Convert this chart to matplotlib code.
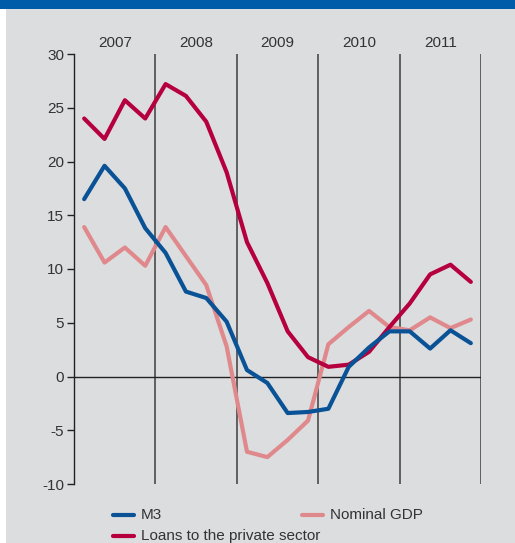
import matplotlib.pyplot as plt
from matplotlib.lines import Line2D
from matplotlib.patches import Rectangle

plt.rcParams['font.family'] = ['Liberation Sans', 'DejaVu Sans']

# quarterly data, 2007Q1 .. 2011Q4 (annual growth, %)
years = [2007, 2008, 2009, 2010, 2011]
m3 = [16.5, 19.6, 17.5, 13.8, 11.5, 7.9, 7.3, 5.1,
      0.6, -0.6, -3.4, -3.3, -3.0, 0.9, 2.7, 4.2,
      4.2, 2.6, 4.3, 3.1]
gdp = [13.9, 10.6, 12.0, 10.3, 13.9, 11.2, 8.5, 2.8,
       -7.0, -7.5, -5.9, -4.1, 3.0, 4.6, 6.1, 4.6,
       4.3, 5.5, 4.5, 5.3]
loans = [24.0, 22.1, 25.7, 24.0, 27.2, 26.1, 23.7, 19.0,
         12.5, 8.7, 4.2, 1.8, 0.9, 1.1, 2.3, 4.6,
         6.8, 9.5, 10.4, 8.8]
yticks = [-10, -5, 0, 5, 10, 15, 20, 25, 30]

x = [years[0] + (i + 0.5) / 4 for i in range(len(m3))]

c_m3 = '#0a5296'
c_gdp = '#e0898c'
c_loans = '#b5003d'
bg = '#dcdddf'

fig = plt.figure(figsize=(5.15, 5.43), dpi=100)
fig.patch.set_facecolor('white')
fig.add_artist(Rectangle((6 / 515, 0), 1, 1, transform=fig.transFigure,
                         facecolor=bg, edgecolor='none', zorder=-10))
fig.add_artist(Rectangle((0, 1 - 9 / 543), 1, 9 / 543, transform=fig.transFigure,
                         facecolor='#005ca9', edgecolor='none', zorder=-9))

ax = fig.add_axes([74 / 515, 1 - 484 / 543, 407 / 515, 430 / 543])
ax.set_facecolor('none')
ax.set_xlim(2007, 2012)
ax.set_ylim(-10, 30)

for s in ['top', 'right', 'bottom']:
    ax.spines[s].set_visible(False)
ax.spines['left'].set_color('#222222')
ax.spines['left'].set_linewidth(1)

ax.set_yticks(yticks)
ax.set_yticklabels([str(v) for v in yticks])
ax.tick_params(axis='y', length=5, width=1, color='#222222', labelsize=11,
               labelcolor='#333333', pad=2)
ax.set_xticks([])

for yr in years[1:] + [2012]:
    ax.axvline(yr, color='#555555', lw=1.3, zorder=1)
ax.axhline(0, color='#222222', lw=1, zorder=1)

for yr in years:
    ax.text(yr + 0.5, 31.0, str(yr), ha='center', va='center', fontsize=11,
            color='#333333', clip_on=False)

ax.plot(x, gdp, color=c_gdp, lw=3, solid_capstyle='round', zorder=3)
ax.plot(x, loans, color=c_loans, lw=3, solid_capstyle='round', zorder=4)
ax.plot(x, m3, color=c_m3, lw=3, solid_capstyle='round', zorder=5)

# legend drawn by hand to match the staggered layout
items = [('M3', c_m3, 113, 515), ('Nominal GDP', c_gdp, 302, 515),
         ('Loans to the private sector', c_loans, 113, 536)]
for label, col, px, py in items:
    yf = 1 - py / 543
    fig.add_artist(Line2D([px / 515, (px + 21) / 515], [yf, yf], color=col, lw=3,
                          solid_capstyle='round', transform=fig.transFigure))
    fig.text((px + 28) / 515, yf, label, fontsize=11, color='#333333', va='center')

fig.savefig('out.png', dpi=100, facecolor=fig.get_facecolor())
